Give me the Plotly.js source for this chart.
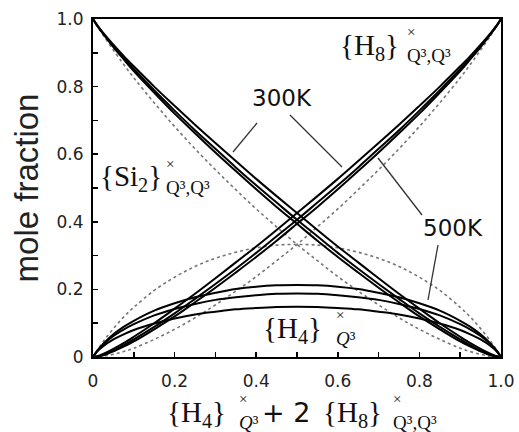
<!DOCTYPE html>
<html>
<head>
<meta charset="utf-8">
<script src="https://cdn.plot.ly/plotly-3.0.1.min.js"></script>
<style>
  html, body { margin: 0; padding: 0; background: #fff; }
  #chart { width: 519px; height: 432px; }
</style>
</head>
<body>
<div id="chart"></div>
<script>
// x = {H4} + 2 {H8} (normalised)
var xs = [0, 0.01, 0.025, 0.05, 0.075, 0.1, 0.15, 0.2, 0.25, 0.3, 0.35, 0.4, 0.45, 0.5,
          0.55, 0.6, 0.65, 0.7, 0.75, 0.8, 0.85, 0.9, 0.925, 0.95, 0.975, 0.99, 1];

// dotted reference curves
var si2Dot = [1, 0.980, 0.952, 0.908, 0.866, 0.826, 0.752, 0.682, 0.616, 0.554, 0.495, 0.438, 0.385, 0.333,
              0.285, 0.238, 0.195, 0.154, 0.116, 0.082, 0.052, 0.026, 0.016, 0.008, 0.002, 0.0004, 0];
var h4Dot  = [0, 0.019, 0.046, 0.084, 0.118, 0.147, 0.197, 0.236, 0.268, 0.292, 0.310, 0.323, 0.331, 0.333,
              0.331, 0.323, 0.310, 0.292, 0.268, 0.236, 0.197, 0.147, 0.118, 0.084, 0.046, 0.019, 0];
var h8Dot  = [0, 0.0004, 0.002, 0.008, 0.016, 0.026, 0.052, 0.082, 0.116, 0.154, 0.195, 0.238, 0.285, 0.333,
              0.385, 0.438, 0.495, 0.554, 0.616, 0.682, 0.752, 0.826, 0.866, 0.908, 0.952, 0.980, 1];

// 500K
var si2_500 = [1, 0.981, 0.956, 0.917, 0.881, 0.846, 0.782, 0.720, 0.662, 0.605, 0.550, 0.496, 0.444, 0.394,
               0.344, 0.296, 0.250, 0.205, 0.162, 0.120, 0.082, 0.046, 0.031, 0.017, 0.005, 0.001, 0];
var h4_500  = [0, 0.018, 0.039, 0.067, 0.089, 0.107, 0.137, 0.159, 0.177, 0.190, 0.201, 0.208, 0.212, 0.213,
               0.212, 0.208, 0.201, 0.190, 0.177, 0.159, 0.137, 0.107, 0.089, 0.067, 0.039, 0.018, 0];
var h8_500  = [0, 0.001, 0.005, 0.017, 0.031, 0.046, 0.082, 0.120, 0.162, 0.205, 0.250, 0.296, 0.344, 0.394,
               0.444, 0.496, 0.550, 0.605, 0.662, 0.720, 0.782, 0.846, 0.881, 0.917, 0.956, 0.981, 1];

// 400K
var si2_400 = [1, 0.981, 0.957, 0.919, 0.885, 0.852, 0.789, 0.729, 0.671, 0.616, 0.561, 0.508, 0.457, 0.406,
               0.357, 0.308, 0.261, 0.216, 0.172, 0.129, 0.089, 0.052, 0.035, 0.019, 0.007, 0.001, 0];
var h4_400  = [0, 0.017, 0.037, 0.062, 0.081, 0.097, 0.123, 0.142, 0.157, 0.169, 0.177, 0.183, 0.187, 0.188,
               0.187, 0.183, 0.177, 0.169, 0.157, 0.142, 0.123, 0.097, 0.081, 0.062, 0.037, 0.017, 0];
var h8_400  = [0, 0.001, 0.007, 0.019, 0.035, 0.052, 0.089, 0.129, 0.172, 0.216, 0.261, 0.308, 0.357, 0.406,
               0.457, 0.508, 0.561, 0.616, 0.671, 0.729, 0.789, 0.852, 0.885, 0.919, 0.957, 0.981, 1];

// 300K
var si2_300 = [1, 0.982, 0.959, 0.924, 0.891, 0.860, 0.800, 0.743, 0.687, 0.633, 0.580, 0.527, 0.476, 0.426,
               0.376, 0.327, 0.280, 0.233, 0.187, 0.143, 0.100, 0.060, 0.041, 0.024, 0.009, 0.002, 0];
var h4_300  = [0, 0.016, 0.032, 0.052, 0.067, 0.080, 0.099, 0.114, 0.126, 0.134, 0.141, 0.145, 0.148, 0.149,
               0.148, 0.145, 0.141, 0.134, 0.126, 0.114, 0.099, 0.080, 0.067, 0.052, 0.032, 0.016, 0];
var h8_300  = [0, 0.002, 0.009, 0.024, 0.041, 0.060, 0.100, 0.143, 0.187, 0.233, 0.280, 0.327, 0.376, 0.426,
               0.476, 0.527, 0.580, 0.633, 0.687, 0.743, 0.800, 0.860, 0.891, 0.924, 0.959, 0.982, 1];

var tickVals = [0, 0.2, 0.4, 0.6, 0.8, 1.0];
var tickText = ["0", "0.2", "0.4", "0.6", "0.8", "1.0"];

var SERIF = "Liberation Serif, Times New Roman, serif";
var SANS = "DejaVu Sans, Arial, sans-serif";

function dotted(y) {
  return {x: xs, y: y, mode: "lines", line: {color: "#777", width: 1.6, dash: "dot", shape: "spline"},
          hoverinfo: "skip", showlegend: false};
}
function solid(y) {
  return {x: xs, y: y, mode: "lines", line: {color: "#000", width: 2, shape: "spline"},
          hoverinfo: "skip", showlegend: false};
}

var data = [
  dotted(si2Dot), dotted(h4Dot), dotted(h8Dot),
  solid(si2_300), solid(si2_400), solid(si2_500),
  solid(h8_300), solid(h8_400), solid(h8_500),
  solid(h4_300), solid(h4_400), solid(h4_500)
];

// pixel -> paper helpers for labels
function px(x) { return (x - 93) / 408; }
function py(y) { return (357 - y) / 338; }
function lab(text, x, y, size, family, xa) {
  return {text: text, x: px(x), y: py(y), xref: "paper", yref: "paper", showarrow: false,
          xanchor: xa || "left", yanchor: "middle", borderpad: 0, align: "left",
          font: {family: family, size: size, color: "#111"}};
}
// "×" stacked over a subscript
function stack(sub, x, y) {
  return lab("<span style=\"font-size:15px\">×</span><br>" + sub, x, y, 19, SERIF);
}

var annotations = [
  lab("{Si<sub>2</sub>}", 99, 178, 29, SERIF),
  stack("Q³,Q³", 165, 177),
  lab("{H<sub>8</sub>}", 339, 47, 29, SERIF),
  stack("Q³,Q³", 406, 45),
  lab("{H<sub>4</sub>}", 262, 330, 29, SERIF),
  stack("<i>Q</i>³", 335, 328),
  lab("300K", 282, 98, 23, SANS, "center"),
  lab("500K", 453, 228, 23, SANS, "center"),
  // x-axis title
  lab("{H<sub>4</sub>}", 166, 414, 29, SERIF),
  stack("<i>Q</i>³", 238, 412),
  lab("+ 2", 261, 412, 27, SANS),
  lab("{H<sub>8</sub>}", 322, 414, 29, SERIF),
  stack("Q³,Q³", 392, 412)
];

function pointer(x0, y0, x1, y1) {
  return {type: "line", xref: "paper", yref: "paper", x0: px(x0), y0: py(y0), x1: px(x1), y1: py(y1),
          line: {color: "#333", width: 1.3}};
}
var shapes = [
  pointer(257, 123, 233, 152),
  pointer(290, 115, 342, 167),
  pointer(378, 158, 422, 215),
  pointer(438, 245, 428, 300)
];

var axisCommon = {
  range: [0, 1], showgrid: false, zeroline: false, showline: true, mirror: true,
  linecolor: "#000", linewidth: 2, ticks: "inside", ticklen: 5, tickwidth: 1.5, tickcolor: "#000",
  tickmode: "array", tickvals: tickVals, ticktext: tickText,
  minor: {tickmode: "linear", tick0: 0, dtick: 0.1, ticks: "inside", ticklen: 5, tickwidth: 1.5, tickcolor: "#000", showgrid: false},
  tickfont: {family: SANS, size: 17, color: "#222"}, fixedrange: true
};

var layout = {
  width: 519, height: 432,
  margin: {l: 93, r: 18, t: 19, b: 75},
  paper_bgcolor: "#fff", plot_bgcolor: "#fff",
  xaxis: Object.assign({}, axisCommon, {ticklabelstandoff: 8}),
  yaxis: Object.assign({}, axisCommon, {
    title: {text: "mole fraction", font: {family: "Liberation Sans, Arial, sans-serif", size: 33, color: "#222"}, standoff: 8},
    ticklabelstandoff: 4
  }),
  annotations: annotations,
  shapes: shapes,
  showlegend: false
};

Plotly.newPlot("chart", data, layout, {displayModeBar: false, staticPlot: true});
</script>
</body>
</html>
